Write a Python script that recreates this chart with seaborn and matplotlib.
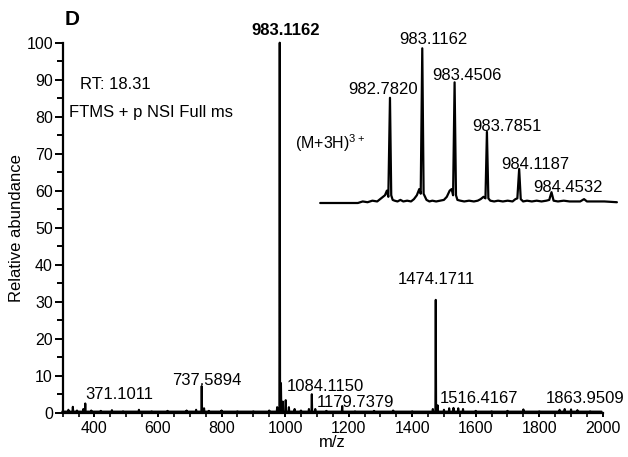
import matplotlib
matplotlib.use("Agg")
import matplotlib.pyplot as plt
import seaborn as sns
import numpy as np
import pandas as pd
from matplotlib.ticker import MultipleLocator

# ---------------- data ----------------
main_mz = [300, 318, 332, 345, 365, 371.1011, 390, 420, 455, 490, 540, 580, 630, 690, 720,
           737.5894, 745, 760, 800, 850, 900, 950, 975, 983.1162, 987, 993, 1002, 1012, 1030,
           1050, 1075, 1084.1150, 1095, 1130, 1179.7379, 1220, 1280, 1340, 1400, 1465,
           1474.1711, 1480, 1500, 1516.4167, 1530, 1545, 1560, 1600, 1650, 1700, 1750, 1800,
           1863.9509, 1880, 1900, 1920, 1960, 1995]
main_int = [0.3, 0.8, 1.6, 0.6, 1.0, 2.5, 0.6, 0.5, 0.7, 0.4, 0.8, 0.4, 0.5, 0.6, 0.8,
            7.2, 1.2, 0.5, 0.6, 0.4, 0.4, 0.6, 1.5, 100, 8, 3, 3.4, 1.5, 1.0,
            0.6, 1.0, 5.0, 1.0, 0.5, 1.8, 0.4, 0.5, 0.6, 0.4, 1.0,
            30.5, 2.0, 0.8, 1.2, 1.3, 1.2, 1.0, 0.5, 0.4, 0.5, 0.9, 0.4,
            0.8, 1.0, 0.9, 0.7, 0.4, 0.3]
main_base = 0.3

main_labels = ["983.1162", "371.1011", "737.5894", "1084.1150", "1179.7379",
               "1474.1711", "1516.4167", "1863.9509"]
main_label_x = [1002.9, 478.9, 753.3, 1127.3, 1220.1, 1476.0, 1609.5, 1945.6]
main_label_y = [103.4, 4.8, 8.65, 6.95, 2.7, 35.9, 3.9, 3.9]

inset_mz = [982.06, 982.45, 982.50, 982.55, 982.60, 982.65, 982.69, 982.73, 982.75, 982.765,
            982.782, 982.795, 982.81, 982.83, 982.86, 982.89, 982.92, 982.96, 983.00, 983.03,
            983.06, 983.085, 983.10, 983.1162, 983.13, 983.145, 983.16, 983.19, 983.22, 983.26,
            983.30, 983.34, 983.37, 983.40, 983.42, 983.435, 983.4506, 983.465, 983.48, 983.51,
            983.55, 983.60, 983.65, 983.69, 983.72, 983.75, 983.77, 983.7851, 983.80, 983.82,
            983.86, 983.90, 983.95, 984.00, 984.05, 984.08, 984.10, 984.1187, 984.135, 984.16,
            984.20, 984.25, 984.30, 984.35, 984.40, 984.43, 984.4532, 984.475, 984.52, 984.58,
            984.64, 984.70, 984.75, 984.79, 984.82, 984.90, 985.00, 985.13]
inset_int = [0, 0, 1, 0.5, 1.5, 1, 3, 5, 8, 4,
             68, 5, 2, 1.5, 1, 2, 1, 1.5, 1, 2.5,
             5, 9, 6, 100, 6, 4, 2, 1, 1.5, 1,
             1.5, 2, 4, 8, 9, 5, 78, 5, 2, 1.5,
             1, 1.5, 1, 1.5, 2.5, 4, 3, 46, 3, 1.5,
             1, 1.5, 1, 1.5, 1, 2.5, 3, 22, 2.5, 1,
             1.5, 1, 1.5, 1, 1.5, 2, 7, 1.5, 1, 1.5,
             1, 1, 1, 2.5, 1, 1, 1, 0.5]

inset_labels = ["982.7820", "983.1162", "983.4506", "983.7851", "984.1187", "984.4532"]
inset_label_x = [982.707, 983.227, 983.576, 983.990, 984.283, 984.624]
inset_label_y = [73.5, 105.4, 82.7, 49.3, 25.2, 9.7]

x_ticks = [400, 600, 800, 1000, 1200, 1400, 1600, 1800, 2000]
y_ticks = [0, 10, 20, 30, 40, 50, 60, 70, 80, 90, 100]

# --------------- build stick profile table ---------------
px, py = [], []
hw = 1.2
for m, h in zip(main_mz, main_int):
    px += [m - hw, m, m + hw]
    py += [main_base, h, main_base]
main_df = pd.DataFrame({"mz": px, "int": py})
inset_df = pd.DataFrame({"mz": inset_mz, "int": inset_int})

# ---------------- style ----------------
sns.set_theme(style="ticks")
plt.rcParams["font.family"] = ["Liberation Sans", "DejaVu Sans"]
plt.rcParams["mathtext.fontset"] = "custom"
plt.rcParams["mathtext.rm"] = "Liberation Sans"
plt.rcParams["mathtext.it"] = "Liberation Sans"
plt.rcParams["text.color"] = "black"
plt.rcParams["axes.labelcolor"] = "black"
plt.rcParams["xtick.color"] = "black"
plt.rcParams["ytick.color"] = "black"
plt.rcParams["axes.edgecolor"] = "black"

fig = plt.figure(figsize=(6.28, 4.57), dpi=100)
ax = fig.add_axes([0.0998, 0.0969, 0.9599 - 0.0998, 0.9066 - 0.0969])

sns.lineplot(data=main_df, x="mz", y="int", sort=False, estimator=None,
             color="black", linewidth=1.5, ax=ax)
ax.set_xlim(300, 2000)
ax.set_ylim(0, 100)
ax.spines["top"].set_visible(False)
ax.spines["right"].set_visible(False)
for s in ["left", "bottom"]:
    ax.spines[s].set_linewidth(1.6)
    ax.spines[s].set_color("black")
ax.set_xticks(x_ticks)
ax.set_yticks(y_ticks)
ax.xaxis.set_minor_locator(MultipleLocator(50))
ax.yaxis.set_minor_locator(MultipleLocator(5))
ax.tick_params(axis="y", which="major", length=6, width=1.4, pad=1, labelsize=11.5, colors="black")
ax.tick_params(axis="y", which="minor", length=4.5, width=1.4, colors="black")
ax.tick_params(axis="x", which="major", length=3, width=1.4, pad=3, labelsize=11.5, colors="black")
ax.tick_params(axis="x", which="minor", length=3, width=1.2, colors="black")
ax.set_xlabel("m/z", fontsize=12, labelpad=-1, color="black")
ax.set_ylabel("Relative abundance", fontsize=12, labelpad=2, color="black")
for ln in ax.get_lines():
    ln.set_clip_on(False)

for i, (t, x, y) in enumerate(zip(main_labels, main_label_x, main_label_y)):
    ax.text(x, y, t, ha="center", va="center", fontsize=12, color="black",
            fontweight="bold" if i == 0 else "normal", clip_on=False)

ax.text(0.032, 0.887, "RT: 18.31", transform=ax.transAxes, fontsize=12, va="center",
        ha="left", color="black")
ax.text(0.012, 0.810, "FTMS + p NSI Full ms", transform=ax.transAxes, fontsize=12,
        va="center", ha="left", color="black")
fig.text(0.103, 0.957, "D", fontsize=15, fontweight="bold", va="center", ha="left", color="black")

# ---------------- inset ----------------
axi = fig.add_axes([320 / 628, 1 - 203 / 457, 297 / 628, 154.7 / 457])
sns.lineplot(data=inset_df, x="mz", y="int", sort=False, estimator=None,
             color="black", linewidth=1.6, ax=axi)
axi.set_xlim(982.058, 985.131)
axi.set_ylim(0, 100)
axi.axis("off")
for ln in axi.get_lines():
    ln.set_clip_on(False)
for t, x, y in zip(inset_labels, inset_label_x, inset_label_y):
    axi.text(x, y, t, ha="center", va="center", fontsize=12, color="black", clip_on=False)
axi.text(981.80, 38.8, "(M+3H)$^{3+}$", ha="left", va="center", fontsize=11.5,
         color="black", clip_on=False)

fig.savefig("out.png", dpi=100, facecolor="white")
